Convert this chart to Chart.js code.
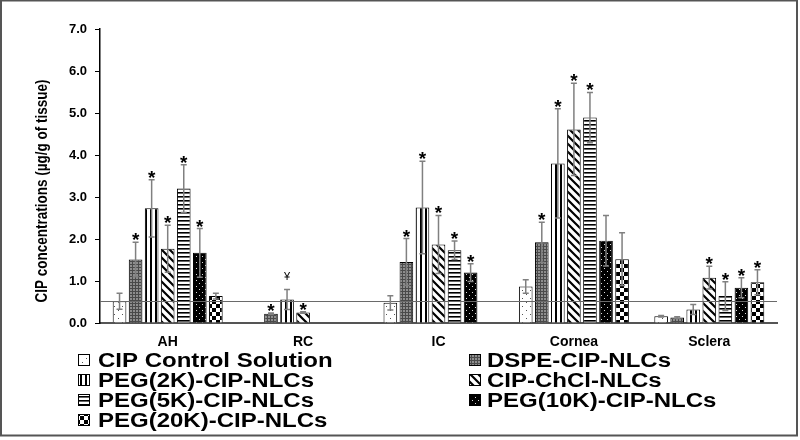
<!DOCTYPE html>
<html>
<head>
<meta charset="utf-8">
<script src="https://cdn.jsdelivr.net/npm/chart.js@4"></script>
<style>
  html, body { margin: 0; padding: 0; background: #fff; }
  #wrap { width: 800px; height: 440px; }
</style>
</head>
<body>
<div id="wrap"><canvas id="chart" width="800" height="440"></canvas></div>
<script>
// === Données ===
const categories = ["AH", "RC", "IC", "Cornea", "Sclera"];
const seriesLabels = ["CIP Control Solution", "DSPE-CIP-NLCs", "PEG(2K)-CIP-NLCs", "CIP-ChCl-NLCs",
                      "PEG(5K)-CIP-NLCs", "PEG(10K)-CIP-NLCs", "PEG(20K)-CIP-NLCs"];
const yTicks = [0, 1, 2, 3, 4, 5, 6, 7];
const refLine = 0.52;

const controlMean = [0.52, null, 0.48, 0.87, 0.16];
const controlSd   = [0.19, 0,    0.17, 0.16, 0.02];
const controlMark = ["", "", "", "", ""];

const dspeMean = [1.51, 0.22, 1.45, 1.92, 0.13];
const dspeSd   = [0.41, 0.02, 0.56, 0.48, 0.02];
const dspeMark = ["*", "*", "*", "*", ""];

const peg2kMean = [2.73, 0.56, 2.75, 3.80, 0.32];
const peg2kSd   = [0.68, 0.24, 1.10, 1.30, 0.12];
const peg2kMark = ["*", "¥", "*", "*", ""];

const chclMean = [1.77, 0.25, 1.87, 4.61, 1.08];
const chclSd   = [0.56, 0.02, 0.69, 1.10, 0.27];
const chclMark = ["*", "*", "*", "*", "*"];

const peg5kMean = [3.20, null, 1.73, 4.89, 0.64];
const peg5kSd   = [0.57, 0,    0.22, 0.60, 0.34];
const peg5kMark = ["*", "", "*", "*", "*"];

const peg10kMean = [1.67, null, 1.20, 1.96, 0.84];
const peg10kSd   = [0.58, 0,    0.21, 0.60, 0.24];
const peg10kMark = ["*", "", "*", "", "*"];

const peg20kMean = [0.64, null, null, 1.52, 0.97];
const peg20kSd   = [0.07, 0,    0,    0.63, 0.30];
const peg20kMark = ["", "", "", "", "*"];

const means = [controlMean, dspeMean, peg2kMean, chclMean, peg5kMean, peg10kMean, peg20kMean];
const sds   = [controlSd, dspeSd, peg2kSd, chclSd, peg5kSd, peg10kSd, peg20kSd];
const marks = [controlMark, dspeMark, peg2kMark, chclMark, peg5kMark, peg10kMark, peg20kMark];

// === Motifs de remplissage (noir et blanc) ===
function motif(type) {
  const c = document.createElement("canvas");
  const g = c.getContext("2d");
  if (type === "points") {
    c.width = 8; c.height = 8;
    g.fillStyle = "#fff"; g.fillRect(0, 0, 8, 8);
    g.fillStyle = "#555"; g.fillRect(2, 2, 1, 1); g.fillRect(6, 6, 1, 1);
  } else if (type === "gris") {
    c.width = 3; c.height = 3;
    g.fillStyle = "#8e8e8e"; g.fillRect(0, 0, 3, 3);
    g.fillStyle = "#4a4a4a"; g.fillRect(0, 0, 3, 1); g.fillRect(0, 0, 1, 3);
  } else if (type === "vert") {
    c.width = 5; c.height = 5;
    g.fillStyle = "#fff"; g.fillRect(0, 0, 5, 5);
    g.fillStyle = "#000"; g.fillRect(0, 0, 2, 5);
  } else if (type === "diag") {
    c.width = 8; c.height = 8;
    g.fillStyle = "#fff"; g.fillRect(0, 0, 8, 8);
    g.strokeStyle = "#000"; g.lineWidth = 2.2;
    g.beginPath();
    g.moveTo(-2, -2); g.lineTo(10, 10);
    g.moveTo(-2, 6); g.lineTo(2, 10);
    g.moveTo(6, -2); g.lineTo(10, 2);
    g.stroke();
  } else if (type === "horiz") {
    c.width = 4; c.height = 4;
    g.fillStyle = "#fff"; g.fillRect(0, 0, 4, 4);
    g.fillStyle = "#000"; g.fillRect(0, 0, 4, 1);
    g.fillStyle = "#666"; g.fillRect(0, 1, 4, 1);
  } else if (type === "noir") {
    c.width = 6; c.height = 6;
    g.fillStyle = "#000"; g.fillRect(0, 0, 6, 6);
    g.fillStyle = "#ddd"; g.fillRect(1, 1, 1, 1); g.fillRect(4, 4, 1, 1);
  } else if (type === "damier") {
    c.width = 8; c.height = 8;
    g.fillStyle = "#fff"; g.fillRect(0, 0, 8, 8);
    g.fillStyle = "#000"; g.fillRect(0, 0, 4, 4); g.fillRect(4, 4, 4, 4);
  }
  return document.getElementById("chart").getContext("2d").createPattern(c, "repeat");
}

const motifs = ["points", "gris", "vert", "diag", "horiz", "noir", "damier"].map(motif);

// === Ligne de référence ===
const ligneRef = {
  id: "ligneRef",
  afterDatasetsDraw(chart) {
    const { ctx, chartArea, scales } = chart;
    const y = Math.round(scales.y.getPixelForValue(refLine)) + 0.5;
    ctx.save();
    ctx.strokeStyle = "#6a6a6a";
    ctx.lineWidth = 1;
    ctx.beginPath();
    ctx.moveTo(chartArea.left, y);
    ctx.lineTo(chartArea.right, y);
    ctx.stroke();
    ctx.restore();
  }
};

// === Barres d'erreur + étoiles ===
const barresErreur = {
  id: "barresErreur",
  afterDatasetsDraw(chart) {
    const { ctx, scales } = chart;
    ctx.save();
    chart.data.datasets.forEach((ds, i) => {
      const meta = chart.getDatasetMeta(i);
      meta.data.forEach((bar, j) => {
        const v = ds.data[j];
        if (v === null) return;
        const sd = ds.err[j];
        const x = bar.x;
        const yHaut = scales.y.getPixelForValue(v + sd);
        const yBas = scales.y.getPixelForValue(Math.max(v - sd, 0));
        if (sd > 0) {
          ctx.strokeStyle = "#808080";
          ctx.lineWidth = 1.5;
          ctx.beginPath();
          ctx.moveTo(x, yBas); ctx.lineTo(x, yHaut);
          ctx.moveTo(x - 3, yHaut); ctx.lineTo(x + 3, yHaut);
          ctx.moveTo(x - 3, yBas); ctx.lineTo(x + 3, yBas);
          ctx.stroke();
        }
        const m = ds.marks[j];
        if (m === "*") {
          ctx.fillStyle = "#000";
          ctx.font = "bold 19px 'Liberation Sans', Arial";
          ctx.textAlign = "center";
          ctx.textBaseline = "alphabetic";
          ctx.fillText("*", x, yHaut - 7 + 11);
        } else if (m === "¥") {
          ctx.fillStyle = "#000";
          ctx.font = "11px 'Liberation Sans', Arial";
          ctx.textAlign = "center";
          ctx.textBaseline = "middle";
          ctx.fillText("¥", x, yHaut - 12);
        }
      });
    });
    ctx.restore();
  }
};

// === Titre de l'axe Y, légende et cadre ===
const decor = {
  id: "decor",
  afterDraw(chart) {
    const ctx = chart.ctx;
    ctx.save();
    // titre Y
    ctx.translate(43, 191);
    ctx.rotate(-Math.PI / 2);
    ctx.scale(1, 1.2);
    ctx.fillStyle = "#000";
    ctx.font = "bold 13.5px 'Liberation Sans', Arial";
    ctx.textAlign = "center";
    ctx.textBaseline = "middle";
    ctx.fillText("CIP concentrations (µg/g of tissue)", 0, 0);
    ctx.restore();

    // légende sur deux colonnes
    const boxX = [78, 469];
    const textX = [98, 487];
    seriesLabels.forEach((label, i) => {
      const col = i % 2;
      const row = Math.floor(i / 2);
      const yc = 360 + row * 20;
      ctx.save();
      ctx.fillStyle = motifs[i];
      ctx.fillRect(boxX[col], yc - 6, 12, 12);
      ctx.strokeStyle = "#000";
      ctx.lineWidth = 1;
      ctx.strokeRect(boxX[col] + 0.5, yc - 5.5, 11, 11);
      ctx.translate(textX[col], yc + 7);
      ctx.scale(1.2, 1);
      ctx.fillStyle = "#000";
      ctx.font = "bold 20px 'Liberation Sans', Arial";
      ctx.textAlign = "left";
      ctx.textBaseline = "alphabetic";
      ctx.fillText(label, 0, 0);
      ctx.restore();
    });

    // cadre
    ctx.save();
    ctx.strokeStyle = "#555";
    ctx.lineWidth = 2;
    ctx.strokeRect(1, 0.5, 796, 435);
    ctx.restore();
  }
};

const datasets = seriesLabels.map((label, i) => ({
  label: label,
  data: means[i],
  err: sds[i],
  marks: marks[i],
  backgroundColor: motifs[i],
  borderColor: "#000",
  borderWidth: 1,
  categoryPercentage: 0.83,
  barPercentage: 0.85
}));

new Chart(document.getElementById("chart"), {
  type: "bar",
  data: { labels: categories, datasets: datasets },
  options: {
    responsive: false,
    animation: false,
    layout: { padding: { top: 29, right: 23, bottom: 0, left: 0 } },
    plugins: {
      legend: { display: false },
      tooltip: { enabled: false }
    },
    scales: {
      x: {
        grid: { display: false, drawTicks: false },
        border: { color: "#555", width: 2 },
        ticks: { color: "#000", font: { family: "'Liberation Sans', Arial", size: 14, weight: "bold" }, padding: 11 },
        afterFit: s => { s.height = 117; }
      },
      y: {
        min: 0,
        max: 7,
        afterBuildTicks: s => { s.ticks = yTicks.map(v => ({ value: v })); },
        grid: { drawOnChartArea: false, drawTicks: true, tickLength: 5, color: "#000" },
        border: { color: "#000", width: 1.5 },
        ticks: {
          color: "#000",
          font: { family: "'Liberation Sans', Arial", size: 13, weight: "bold" },
          padding: 8,
          callback: v => v.toFixed(1)
        },
        afterFit: s => { s.width = 100; }
      }
    }
  },
  plugins: [ligneRef, barresErreur, decor]
});
</script>
</body>
</html>
